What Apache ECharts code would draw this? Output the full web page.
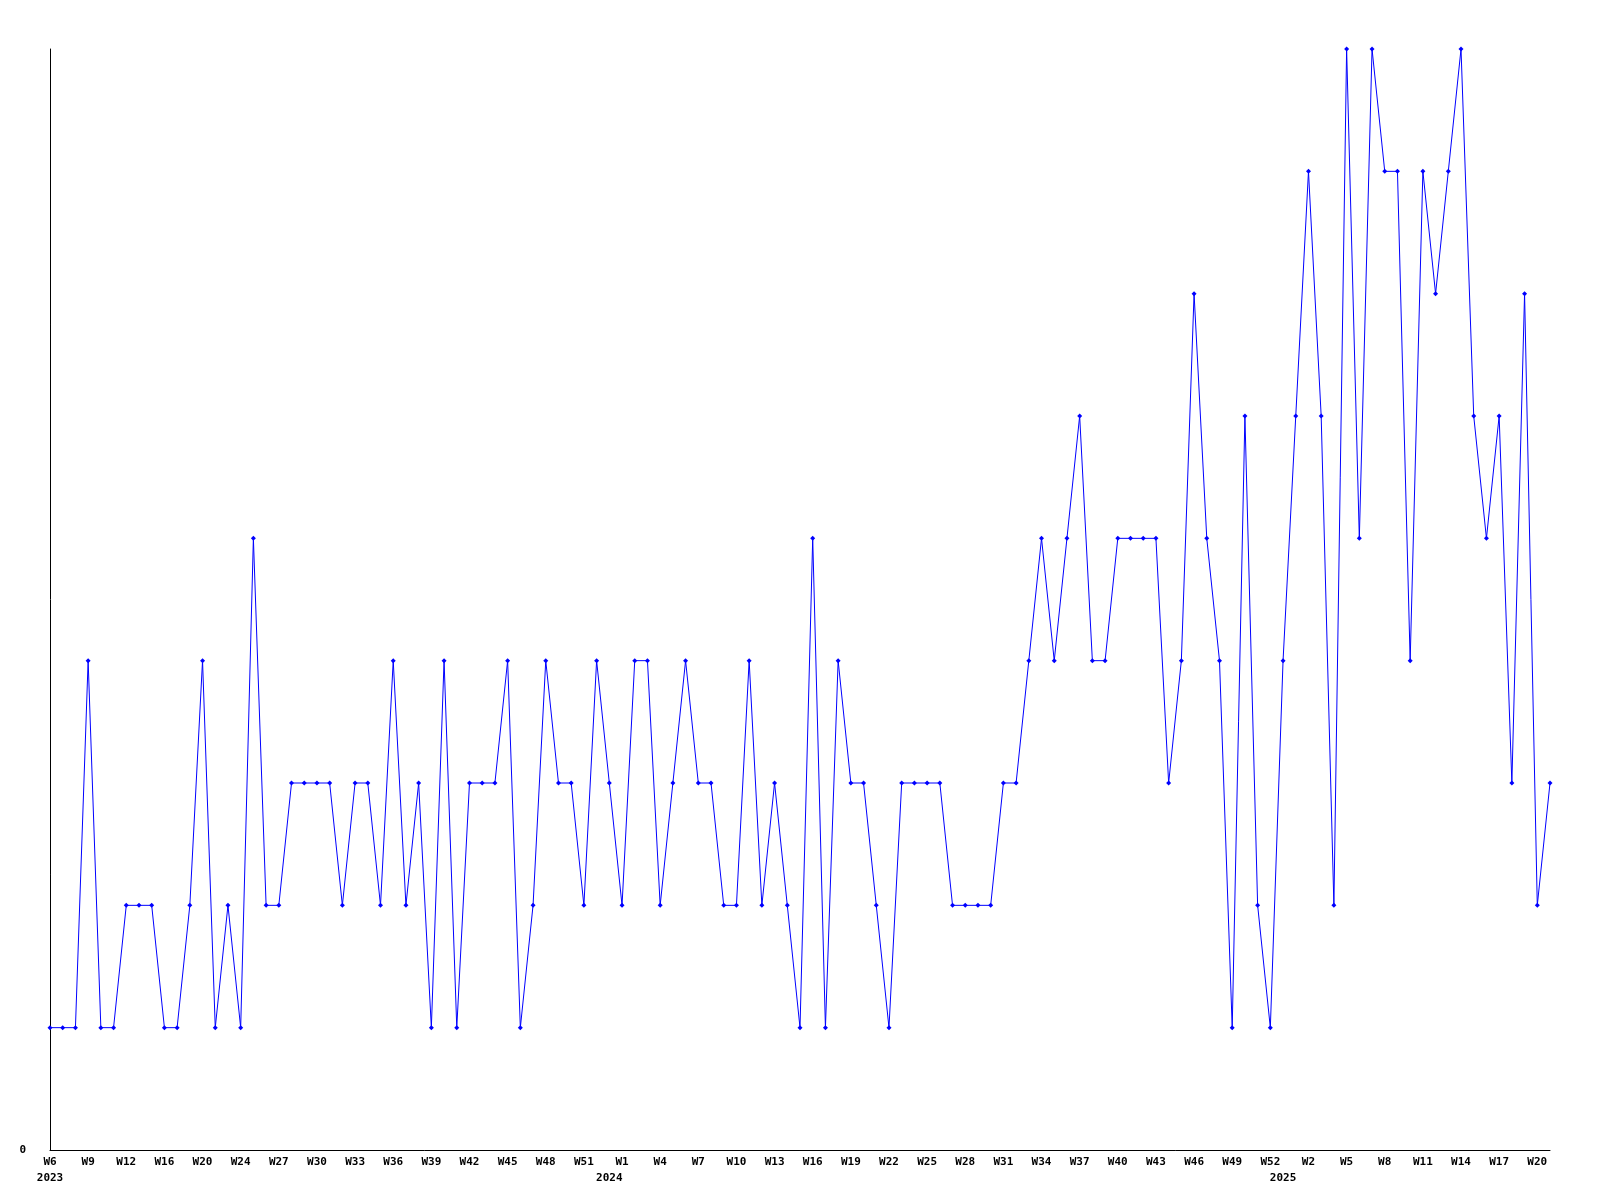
<!DOCTYPE html>
<html>
<head>
<meta charset="utf-8">
<script src="https://cdn.jsdelivr.net/npm/echarts@6/dist/echarts.min.js"></script>
<style>html,body{margin:0;padding:0;background:#fff}#c{width:1600px;height:1200px}</style>
</head>
<body>
<div id="c"></div>
<script>
// weekly values, 2023 W6 .. 2025 W20
const values = [
  1,1,1,4,1,1,2,2,2,1,
  1,2,4,1,2,1,5,2,2,3,
  3,3,3,2,3,3,2,4,2,3,
  1,4,1,3,3,3,4,1,2,4,
  3,3,2,4,3,2,4,4,2,3,
  4,3,3,2,2,4,2,3,2,1,
  5,1,4,3,3,2,1,3,3,3,
  3,2,2,2,2,3,3,4,5,4,
  5,6,4,4,5,5,5,5,3,4,
  7,5,4,1,6,2,1,4,6,8,
  6,2,9,5,9,8,8,4,8,7,
  8,9,6,5,6,3,7,2,3
];
// tick labels, one every 3 points
const tickLabels = ['W6','W9','W12','W16','W20','W24','W27','W30','W33','W36','W39','W42','W45','W48','W51',
  'W1','W4','W7','W10','W13','W16','W19','W22','W25','W28','W31','W34','W37','W40','W43','W46','W49','W52',
  'W2','W5','W8','W11','W14','W17','W20'];
const tickStep = 3;
const yearLabels = ['2023','2024','2025'];
const yearIndex = [0, 44, 97];

const categories = values.map((_, i) => String(i));
const font = {fontFamily: 'DejaVu Sans Mono', fontWeight: 'bold', fontSize: 11, color: '#000'};

const chart = echarts.init(document.getElementById('c'), null, {renderer: 'canvas'});
chart.setOption({
  animation: false,
  backgroundColor: '#fff',
  grid: {left: 50, right: 50, top: 49, bottom: 50, containLabel: false},
  xAxis: [{
    type: 'category', data: categories, boundaryGap: false,
    axisLine: {show: true, lineStyle: {color: '#000', width: 1}},
    axisTick: {show: false},
    splitLine: {show: false},
    axisLabel: Object.assign({
      interval: (idx) => idx % tickStep === 0, margin: 7, hideOverlap: false,
      formatter: (v, idx) => (idx % tickStep === 0 ? (tickLabels[idx / tickStep] || '') : '')
    }, font)
  }, {
    type: 'category', data: categories, boundaryGap: false, position: 'bottom', offset: 16,
    axisLine: {show: false}, axisTick: {show: false}, splitLine: {show: false},
    axisLabel: Object.assign({
      interval: (idx) => yearIndex.indexOf(idx) >= 0, margin: 7,
      formatter: (v, idx) => { const k = yearIndex.indexOf(Number(v)); return k >= 0 ? yearLabels[k] : ''; }
    }, font)
  }],
  yAxis: {
    type: 'value', min: 0, max: 9, interval: 9,
    axisLine: {show: true, lineStyle: {color: '#000', width: 1}},
    axisTick: {show: false},
    splitLine: {show: false},
    axisLabel: Object.assign({margin: 24, formatter: v => (v === 0 ? '0' : '')}, font)
  },
  series: [{
    type: 'line', data: values, xAxisIndex: 0,
    symbol: 'diamond', symbolSize: 5, showSymbol: true,
    lineStyle: {color: '#0000ff', width: 1},
    itemStyle: {color: '#0000ff'}
  }]
});
</script>
</body>
</html>
